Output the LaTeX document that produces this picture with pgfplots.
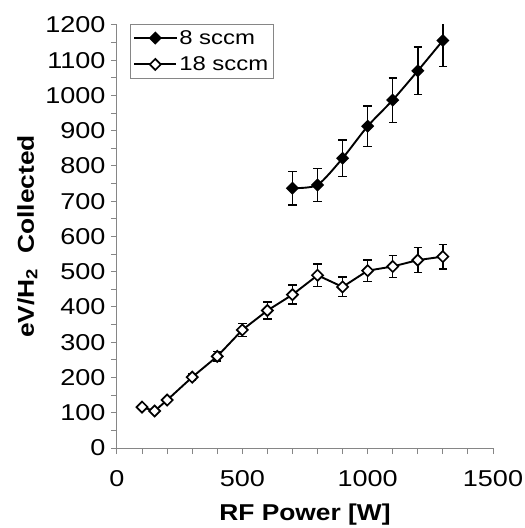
\documentclass[border=0pt]{standalone}
\usepackage{fontspec}
\setmainfont{Liberation Sans}
\usepackage{pgfplots}
\pgfplotsset{compat=1.18}
\definecolor{axgray}{RGB}{134,134,134}
\begin{document}
\begin{tikzpicture}
\begin{axis}[
  scale only axis,
  width=376bp, height=423bp,
  xmin=0, xmax=1500, ymin=0, ymax=1200,
  axis x line*=bottom, axis y line*=left,
  axis line style={axgray, line width=1bp},
  xtick={0,500,1000,1500}, minor x tick num=4,
  ytick distance=100, minor y tick num=1,
  tick align=outside,
  major tick length=6bp, minor tick length=6bp,
  tick style={axgray, line width=1bp},
  xticklabel={\scalebox{1.18}[1]{\pgfmathprintnumber[assume math mode=true,set thousands separator={}]{\tick}}},
  yticklabel={\scalebox{1.18}[1]{\pgfmathprintnumber[assume math mode=true,set thousands separator={}]{\tick}}},
  tick label style={font=\fontsize{23}{26}\selectfont},
  xticklabel style={yshift=-13bp},
  yticklabel style={xshift=-2bp},
  xlabel={\scalebox{1.15}[1]{\textbf{RF Power [W]}}},
  ylabel={\scalebox{1.15}[1]{\textbf{eV/H$_\mathbf{2}$\ \ Collected}}},
  label style={font=\fontsize{23}{26}\selectfont},
  xlabel style={yshift=-10bp},
  ylabel style={yshift=1bp},
  legend style={at={(0.035,1.002)}, anchor=north west, draw=axgray,
    font=\fontsize{20}{23}\selectfont, inner xsep=3bp, inner ysep=4bp, row sep=7bp,
    cells={anchor=west}},
  legend image code/.code={\draw[mark repeat=2,mark phase=2] plot coordinates {(0bp,0bp) (21bp,0bp) (42bp,0bp)};},
  every axis plot/.append style={line width=1.9bp},
  error bars/error bar style={line width=1.4bp, black},
  error bars/error mark options={rotate=90, mark size=4.2bp, line width=1.4bp, black},
]
\addplot[black, smooth, tension=0.4, mark=square*, mark size=3.9bp,
  mark options={fill=black, solid, rotate=45, line width=1.5bp},
  error bars/.cd, y dir=both, y explicit]
  coordinates {
  (700,737) +- (0,48)
  (800,746) +- (0,47)
  (900,822) +- (0,52)
  (1000,913) +- (0,57)
  (1100,987) +- (0,63)
  (1200,1070) +- (0,68)
  (1300,1156) +- (0,73)
};
\addlegendentry{\scalebox{1.2}[1]{8 sccm}}
\addplot[black, mark=square*, mark size=3.9bp,
  mark options={fill=white, solid, rotate=45, line width=1.7bp},
  error bars/.cd, y dir=both, y explicit]
  coordinates {
  (100,116) +- (0,5)
  (150,105) +- (0,5)
  (200,136) +- (0,6)
  (300,201) +- (0,9)
  (400,260) +- (0,13)
  (500,335) +- (0,19)
  (600,390) +- (0,24)
  (700,435) +- (0,27)
  (800,490) +- (0,32)
  (900,457) +- (0,28)
  (1000,503) +- (0,30)
  (1100,515) +- (0,31)
  (1200,533) +- (0,35)
  (1300,543) +- (0,35)
};
\addlegendentry{\scalebox{1.2}[1]{18 sccm}}
\end{axis}
\pgfresetboundingbox
\useasboundingbox ([shift={(-117bp,-80bp)}]current axis.south west) rectangle ([shift={(32bp,25bp)}]current axis.north east);
\end{tikzpicture}
\end{document}
